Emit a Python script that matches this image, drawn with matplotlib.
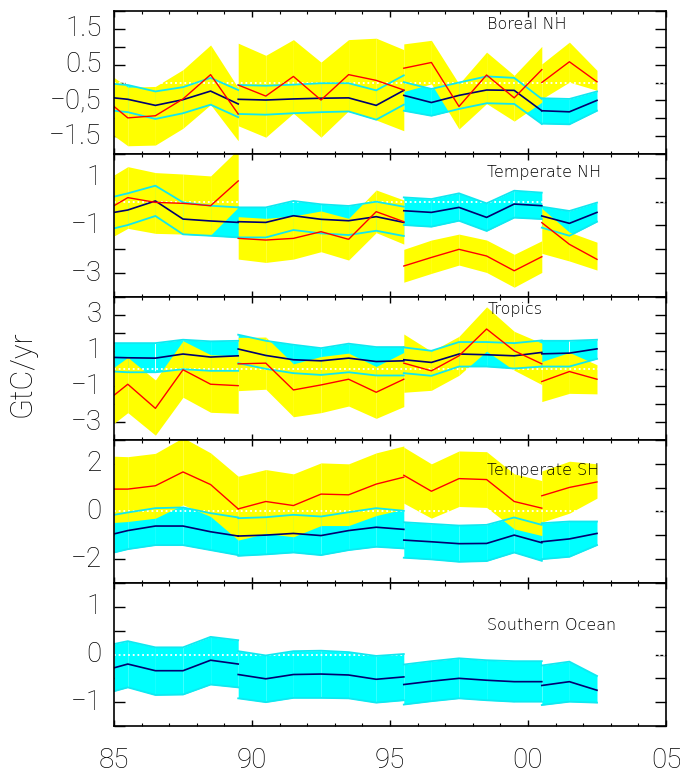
import matplotlib
matplotlib.use("Agg")
import matplotlib.pyplot as plt
import numpy as np

# ---------------- data ----------------
years = [85.0, 85.5, 86.5, 87.5, 88.5, 89.5,
         89.5, 90.5, 91.5, 92.5, 93.5, 94.5, 95.5,
         95.5, 96.5, 97.5, 98.5, 99.5, 100.5,
         100.5, 101.5, 102.5]
seg_lengths = [6, 7, 6, 3]

titles = ["Boreal NH", "Temperate NH", "Tropics", "Temperate SH", "Southern Ocean"]

# Boreal NH
boreal_red = [-0.67, -0.99, -0.93, -0.46, 0.22, -0.88, -0.07, -0.38, 0.17, -0.49, 0.22, 0.06, -0.21,
              0.40, 0.56, -0.67, 0.21, -0.43, 0.36, 0.0, 0.58, 0.02]
boreal_yhi = [0.14, -0.13, -0.11, 0.36, 1.05, -0.15, 1.10, 0.76, 1.20, 0.57, 1.20, 1.24, 0.92,
              1.08, 1.18, -0.04, 0.85, 0.20, 1.01, 0.52, 1.13, 0.34]
boreal_ylo = [-1.49, -1.77, -1.75, -1.28, -0.62, -1.63, -1.21, -1.53, -0.86, -1.53, -0.79, -1.05, -1.35,
              -0.25, -0.04, -1.30, -0.59, -1.08, -0.55, -0.46, 0.01, -0.22]
boreal_navy = [-0.43, -0.47, -0.64, -0.48, -0.24, -0.60, -0.47, -0.49, -0.46, -0.44, -0.43, -0.64, -0.22,
               -0.36, -0.56, -0.36, -0.21, -0.22, -0.79, -0.79, -0.82, -0.50]
boreal_chi = [-0.04, -0.07, -0.25, -0.13, 0.13, -0.21, -0.07, -0.09, -0.06, -0.02, -0.02, -0.22, 0.20,
              0.01, -0.18, 0.0, 0.17, 0.13, -0.46, -0.44, -0.46, -0.25]
boreal_clo = [-0.79, -0.83, -1.02, -0.86, -0.62, -0.97, -0.88, -0.90, -0.86, -0.83, -0.81, -1.04, -0.62,
              -0.79, -0.93, -0.74, -0.58, -0.60, -1.16, -1.15, -1.17, -0.79]

# Temperate NH
tnh_red = [-0.17, 0.17, -0.03, -0.07, -0.17, 0.87, -1.54, -1.61, -1.54, -1.26, -1.58, -0.42, -0.84,
           -2.70, -2.34, -2.00, -2.28, -2.90, -2.31, -0.88, -1.79, -2.42]
tnh_yhi = [1.12, 1.47, 1.22, 1.16, 1.08, 2.20, -0.63, -0.70, -0.60, -0.39, -0.70, 0.49, 0.07,
           -2.00, -1.61, -1.36, -1.61, -2.21, -1.64, -0.28, -1.28, -1.70]
tnh_ylo = [-1.44, -1.12, -1.33, -1.36, -1.40, -0.24, -2.41, -2.55, -2.41, -2.10, -2.45, -1.30, -1.78,
           -3.38, -3.01, -2.66, -2.97, -3.59, -2.97, -2.17, -2.49, -2.87]
tnh_navy = [-0.45, -0.35, 0.03, -0.73, -0.81, -0.87, -0.84, -0.87, -0.59, -0.74, -0.80, -0.63, -0.87,
            -0.38, -0.45, -0.24, -0.66, -0.10, -0.17, -0.60, -0.91, -0.45]
tnh_chi = [0.21, 0.35, 0.67, -0.03, -0.17, -0.24, -0.24, -0.24, 0.03, -0.11, -0.18, 0.0, -0.21,
           0.18, 0.11, 0.35, -0.07, 0.46, 0.38, -0.21, -0.39, -0.04]
tnh_clo = [-1.12, -0.98, -0.60, -1.37, -1.43, -1.50, -1.50, -1.50, -1.19, -1.33, -1.40, -1.22, -1.44,
           -0.98, -1.05, -0.80, -1.23, -0.67, -0.73, -1.09, -1.43, -0.84]

# Tropics
trop_red = [-1.50, -0.88, -2.23, -0.07, -0.88, -0.96, 0.26, 0.30, -1.20, -0.92, -0.60, -1.33, -0.60,
            0.30, -0.13, 0.71, 2.21, 0.99, 0.26, -0.73, -0.17, -0.60]
trop_yhi = [0.07, 0.62, -0.64, 1.55, 0.77, 0.71, 1.74, 1.76, 0.26, 0.67, 0.86, 0.11, 0.90,
            1.93, 0.96, 1.80, 3.45, 2.08, 1.42, 0.39, 0.90, 0.21]
trop_ylo = [-3.07, -2.47, -3.73, -1.61, -2.45, -2.51, -1.24, -1.16, -2.70, -2.47, -2.10, -2.79, -2.13,
            -1.33, -1.22, -0.38, 0.97, -0.10, -0.90, -1.85, -1.39, -1.42]
trop_navy = [0.62, 0.60, 0.58, 0.81, 0.64, 0.71, 1.09, 0.73, 0.49, 0.43, 0.58, 0.39, 0.43,
             0.49, 0.34, 0.81, 0.77, 0.71, 0.90, 0.82, 0.86, 1.10]
trop_chi = [1.42, 1.42, 1.42, 1.61, 1.52, 1.55, 1.89, 1.55, 1.33, 1.14, 1.39, 1.20, 1.20,
            1.18, 0.99, 1.48, 1.48, 1.42, 1.57, 1.55, 1.55, 1.61]
trop_clo = [-0.17, -0.21, -0.21, -0.04, -0.13, -0.13, 0.30, -0.02, -0.26, -0.36, -0.21, -0.39, -0.39,
            -0.26, -0.41, 0.11, 0.11, 0.0, 0.11, 0.11, 0.11, 0.54]

# Temperate SH
tsh_red = [0.94, 0.94, 1.08, 1.66, 1.13, 0.11, 0.11, 0.42, 0.25, 0.73, 0.70, 1.15, 1.44,
           1.52, 0.85, 1.38, 1.34, 0.42, 0.14, 0.66, 1.01, 1.24]
tsh_yhi = [2.32, 2.30, 2.44, 3.10, 2.46, 1.48, 1.48, 1.76, 1.58, 2.04, 2.00, 2.46, 2.75,
           2.70, 2.00, 2.54, 2.51, 1.58, 1.30, 1.70, 2.11, 2.00]
tsh_ylo = [-0.46, -0.42, -0.28, 0.28, -0.21, -1.20, -1.20, -0.92, -1.06, -0.59, -0.59, -0.17, 0.10,
           0.35, -0.28, 0.21, 0.17, -0.73, -1.01, -0.45, -0.07, 0.56]
tsh_navy = [-0.94, -0.80, -0.61, -0.61, -0.85, -1.03, -1.03, -0.99, -0.92, -1.01, -0.80, -0.66, -0.75,
            -1.20, -1.27, -1.35, -1.34, -0.99, -1.31, -1.27, -1.15, -0.92]
tsh_chi = [-0.14, -0.04, 0.14, 0.17, -0.07, -0.25, -0.28, -0.24, -0.14, -0.21, -0.03, 0.14, 0.03,
           -0.45, -0.52, -0.59, -0.56, -0.25, -0.56, -0.49, -0.42, -0.42]
tsh_clo = [-1.72, -1.58, -1.41, -1.41, -1.62, -1.83, -1.86, -1.80, -1.72, -1.83, -1.62, -1.48, -1.55,
           -1.94, -2.01, -2.11, -2.08, -1.72, -2.07, -2.00, -1.90, -1.41]

# Southern Ocean
so_navy = [-0.28, -0.20, -0.34, -0.34, -0.12, -0.20, -0.42, -0.51, -0.42, -0.41, -0.43, -0.52, -0.47,
           -0.63, -0.56, -0.50, -0.54, -0.57, -0.57, -0.65, -0.57, -0.75]
so_chi = [0.22, 0.28, 0.15, 0.15, 0.37, 0.30, 0.07, -0.02, 0.07, 0.08, 0.05, -0.03, 0.01,
          -0.21, -0.14, -0.08, -0.12, -0.14, -0.14, -0.23, -0.15, -0.45]
so_clo = [-0.77, -0.69, -0.85, -0.84, -0.63, -0.69, -0.92, -1.00, -0.91, -0.91, -0.92, -1.01, -0.96,
          -1.05, -0.98, -0.92, -0.96, -0.99, -0.99, -1.06, -0.99, -1.01]

# axis settings
ylims = [(-2, 2), (-4, 2), (-4, 4), (-3, 3), (-1.5, 1.5)]
ytick_step = [0.5, 1, 1, 1, 0.5]
ylabel_vals = [[1.5, 0.5, -0.5, -1.5], [1, -1, -3], [3, 1, -1, -3], [2, 0, -2], [1, 0, -1]]
ylabel_txt = [["1.5", "0.5", "\u22120,5", "\u22121.5"], ["1", "\u22121", "\u22123"],
              ["3", "1", "\u22121", "\u22123"], ["2", "0", "\u22122"], ["1", "0", "\u22121"]]
xtick_vals = [85, 90, 95, 100, 105]
xtick_txt = ["85", "90", "95", "00", "05"]
title_y = [0.909, 0.874, 0.916, 0.79, 0.706]

yellow_sets = [(boreal_red, boreal_yhi, boreal_ylo), (tnh_red, tnh_yhi, tnh_ylo),
               (trop_red, trop_yhi, trop_ylo), (tsh_red, tsh_yhi, tsh_ylo), None]
cyan_sets = [(boreal_navy, boreal_chi, boreal_clo), (tnh_navy, tnh_chi, tnh_clo),
             (trop_navy, trop_chi, trop_clo), (tsh_navy, tsh_chi, tsh_clo),
             (so_navy, so_chi, so_clo)]

# ---------------- plot ----------------
FONT = "Roboto"
TFONT = ["DejaVu Sans"]
W, H = 680, 773
fig = plt.figure(figsize=(W / 100, H / 100), dpi=100)

left_px, right_px = 114, 666
top_px, bot_px = 11, 726
ph = (bot_px - top_px) / 5.0

YEL = "#FFFF00"
CYA = "#00FFFF"
CYL = "#10E8F0"
RED = "#FF0000"
NAV = "#000070"

x = np.array(years)
bounds = np.cumsum([0] + seg_lengths)


def segments():
    for a, b in zip(bounds[:-1], bounds[1:]):
        yield a, b


for i in range(5):
    ptop = top_px + i * ph
    ax = fig.add_axes([left_px / W, 1 - (ptop + ph) / H, (right_px - left_px) / W, ph / H])
    ax.set_axisbelow(True)
    ax.set_xlim(85, 105)
    ax.set_ylim(*ylims[i])

    cy = cyan_sets[i]
    ye = yellow_sets[i]
    navy, chi, clo = [np.array(v) for v in cy]
    for a, b in segments():
        for k in range(a, b - 1):
            ax.fill_between(x[k:k + 2], clo[k:k + 2], chi[k:k + 2], color=CYA, lw=0, zorder=1)
    if ye is not None:
        red, yhi, ylo = [np.array(v) for v in ye]
        for a, b in segments():
            for k in range(a, b - 1):
                ax.fill_between(x[k:k + 2], ylo[k:k + 2], yhi[k:k + 2], color=YEL, lw=0, zorder=1.1)

    ax.axhline(0, color="white", lw=1.3, linestyle=(0, (1, 1.6)), zorder=1.5)

    for a, b in segments():
        ax.plot(x[a:b], chi[a:b], color=CYL, lw=1.3, zorder=2)
        ax.plot(x[a:b], clo[a:b], color=CYL, lw=1.3, zorder=2)
    for a, b in segments():
        ax.plot(x[a:b], navy[a:b], color=NAV, lw=1.2, zorder=2.1)
    if ye is not None:
        for a, b in segments():
            ax.plot(x[a:b], red[a:b], color=RED, lw=1.0, zorder=2.2)

    lo, hi = ylims[i]
    st = ytick_step[i]
    yt = np.arange(lo, hi + st / 2, st)
    ax.set_yticks(yt)
    ax.set_yticklabels(["" for _ in yt])
    ax.tick_params(axis="y", which="major", direction="in", length=8, width=1.0,
                   left=True, right=True, pad=8)
    ax.set_xticks(xtick_vals)
    ax.set_xticks(np.arange(85, 106, 1), minor=True)
    ax.tick_params(axis="x", which="major", direction="in", length=4.5, width=1.0,
                   top=True, bottom=True, pad=15)
    ax.tick_params(axis="x", which="minor", direction="in", length=2.3, width=0.8,
                   top=True, bottom=True)
    if i == 4:
        ax.set_xticklabels(xtick_txt, fontsize=20, fontfamily=FONT, fontweight="light")
    else:
        ax.set_xticklabels([])
    for v, t in zip(ylabel_vals[i], ylabel_txt[i]):
        ax.annotate(t, xy=(0, v), xycoords=("axes fraction", "data"),
                    xytext=(-9, 0), textcoords="offset points",
                    ha="right", va="center", fontsize=20, fontfamily=FONT,
                    fontweight="light", annotation_clip=False)
    for s in ax.spines.values():
        s.set_linewidth(1.2)
        s.set_zorder(3)
    ax.text(0.676, title_y[i], titles[i], transform=ax.transAxes, fontsize=11.5,
            family=TFONT, fontweight="light", color="black", ha="left", va="center", zorder=4)

fig.text(22 / W, 1 - 374 / H, "GtC/yr", rotation=90, fontsize=22, fontfamily=FONT,
         fontweight="light", ha="center", va="center")

fig.savefig("out.png", dpi=100)
